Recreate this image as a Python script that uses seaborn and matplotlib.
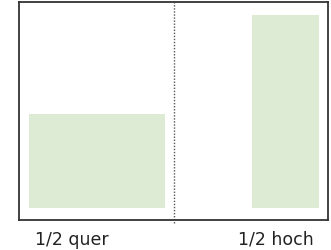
import matplotlib
matplotlib.use("Agg")
import seaborn as sns
from matplotlib import pyplot as plt

# ad formats on a page split into two halves (page width = 2, height = 1)
formats = ["1/2 quer", "1/2 hoch"]
x_start = [0.064, 1.508]
widths = [0.881, 0.434]
heights = [0.433, 0.887]
base = 0.053
label_pos = [0.34, 1.66]
divider = 1.006

sns.set_theme(style="white")
plt.rcParams["font.family"] = ["Liberation Sans Narrow", "DejaVu Sans"]

fig = plt.figure(figsize=(3.31, 2.51), dpi=100)
ax = fig.add_axes([0.0574, 0.1195, 0.9336, 0.8685])

ax.bar(x_start, heights, width=widths, bottom=base, align="edge",
       color="#ddebd5", edgecolor="none")
ax.axvline(divider, ymin=-0.012, ymax=1, color="#555555", linestyle=(0, (1, 1.2)),
           linewidth=1.0, clip_on=False)

ax.set_xlim(0, 2)
ax.set_ylim(0, 1)
ax.set_xticks(label_pos)
ax.set_xticklabels(formats, fontsize=12.5, color="#222222")
ax.tick_params(axis="x", length=0, pad=7)
ax.set_yticks([])
for s in ax.spines.values():
    s.set_color("#333333")
    s.set_linewidth(1.3)

plt.savefig("out.png", dpi=100)
plt.close()
